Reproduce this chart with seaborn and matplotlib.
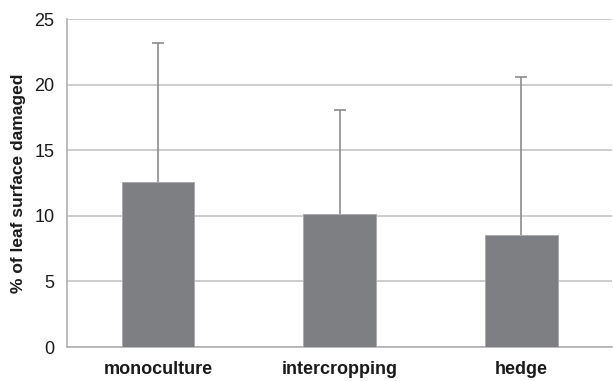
import matplotlib
matplotlib.use("Agg")
import matplotlib.pyplot as plt
import seaborn as sns
import numpy as np
import pandas as pd

categories = ["monoculture", "intercropping", "hedge"]
means = [12.6, 10.15, 8.55]
upper_err = [10.6, 7.9, 12.05]
yticks = [0, 5, 10, 15, 20, 25]

sns.set_theme(style="white")
plt.rcParams['font.family'] = ['Liberation Sans', 'DejaVu Sans']

df = pd.DataFrame({"cat": categories, "val": means})

fig = plt.figure(figsize=(6.13, 3.81), dpi=100)
ax = fig.add_axes([67/613, 1-347/381, 545/613, 328/381])

sns.barplot(data=df, x="cat", y="val", color="#7e7f83", saturation=1,
            width=0.4, errorbar=None, ax=ax, zorder=3)
for p in ax.patches:
    p.set_edgecolor("#a8a8aa")
    p.set_linewidth(0.6)

xs = np.arange(len(categories))
eb = ax.errorbar(xs, means, yerr=[np.zeros(len(means)), upper_err], fmt="none",
                 ecolor="#8c8c8e", elinewidth=1.2, capsize=4.5, capthick=1.2, zorder=4)
eb[1][0].set_visible(False)

ax.set_ylim(0, 25)
ax.set_xlim(-0.5, len(categories) - 0.5)
ax.set_yticks(yticks)
ax.set_yticklabels([str(t) for t in yticks], fontsize=13, color="#1a1a1a")
ax.yaxis.grid(True, color="#c4c4c4", linewidth=1.2, zorder=0)
ax.set_axisbelow(True)

ax.set_xticks(xs)
ax.set_xticklabels(categories, fontsize=13, fontweight="bold", color="#1a1a1a")
ax.set_xticks(np.arange(-0.5, len(categories)), minor=True)
ax.tick_params(axis="x", which="major", length=0, pad=10)
ax.tick_params(axis="x", which="minor", length=5, width=1.2, color="#b0b0b0", direction="out")
ax.tick_params(axis="y", which="major", length=6, width=1.2, color="#c4c4c4", direction="out", pad=3)

ax.set_xlabel("")
ax.set_ylabel("% of leaf surface damaged", fontsize=12.5, fontweight="bold", color="#1a1a1a", labelpad=6)

for s in ["top", "right"]:
    ax.spines[s].set_visible(False)
for s in ["left", "bottom"]:
    ax.spines[s].set_color("#b0b0b0")
    ax.spines[s].set_linewidth(1.2)

fig.savefig("out.png", dpi=100)
